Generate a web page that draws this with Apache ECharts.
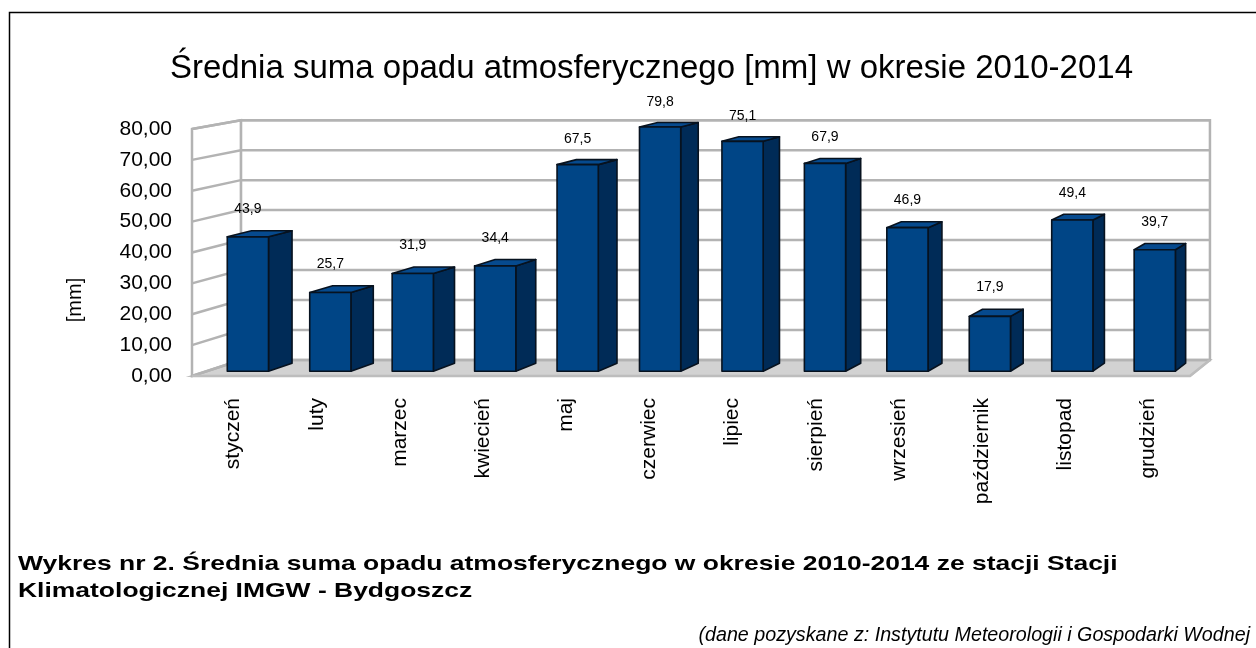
<!DOCTYPE html>
<html>
<head>
<meta charset="utf-8">
<script src="https://cdn.jsdelivr.net/npm/echarts@6/dist/echarts.min.js"></script>
<style>
  html, body { margin: 0; padding: 0; background: #fff; }
  #main { width: 1256px; height: 648px; }
</style>
</head>
<body>
<div id="main"></div>
<script>
var months = ['styczeń', 'luty', 'marzec', 'kwiecień', 'maj', 'czerwiec',
  'lipiec', 'sierpień', 'wrzesień', 'październik', 'listopad', 'grudzień'];
var precip = [43.9, 25.7, 31.9, 34.4, 67.5, 79.8, 75.1, 67.9, 46.9, 17.9, 49.4, 39.7];
var yMin = 0;
var yMax = 80;
var yStep = 10;

var FONT = '"Liberation Sans", Arial, sans-serif';

// fake perspective: points move toward a vanishing point as depth goes 0 -> 1
var VP = [1878, -175];
var DEPTH = 0.029;
var BAR_FRONT = 0.3;
var BAR_BACK = 0.8;
var BAR_WIDTH = 0.5;

function P(x, y, w) {
  var s = w * DEPTH;
  return [x + s * (VP[0] - x), y + s * (VP[1] - y)];
}

var chartDom = document.getElementById('main');
var myChart = echarts.init(chartDom);
var option;

function renderWalls(params, api) {
  var band = api.size([1, 0])[0];
  var x0 = api.coord([0, yMin])[0] - band / 2;
  var x1 = api.coord([months.length - 1, yMin])[0] + band / 2;
  var yb = api.coord([0, yMin])[1];
  var yt = api.coord([0, yMax])[1];
  var grey = '#b3b3b3';
  var children = [];
  // floor
  children.push({
    type: 'polygon',
    shape: { points: [P(x0, yb, 0), P(x1, yb, 0), P(x1, yb, 1), P(x0, yb, 1)] },
    style: { fill: '#d2d2d2', stroke: '#bdbdbd', lineWidth: 2 }
  });
  // back wall
  children.push({
    type: 'polygon',
    shape: { points: [P(x0, yt, 1), P(x1, yt, 1), P(x1, yb, 1), P(x0, yb, 1)] },
    style: { fill: '#ffffff', stroke: grey, lineWidth: 2.5 }
  });
  // left wall
  children.push({
    type: 'polygon',
    shape: { points: [P(x0, yt, 0), P(x0, yt, 1), P(x0, yb, 1), P(x0, yb, 0)] },
    style: { fill: '#ffffff', stroke: grey, lineWidth: 2.5 }
  });
  for (var v = yMin; v <= yMax; v += yStep) {
    var y = api.coord([0, v])[1];
    children.push({
      type: 'polyline',
      shape: { points: [P(x0, y, 0), P(x0, y, 1), P(x1, y, 1)] },
      style: { stroke: grey, lineWidth: 2.5, fill: null }
    });
  }
  // front floor edge
  children.push({
    type: 'polyline',
    shape: { points: [P(x0, yb, 0), P(x1, yb, 0), P(x1, yb, 1)] },
    style: { stroke: '#bdbdbd', lineWidth: 2.5, fill: null }
  });
  return { type: 'group', children: children };
}

function renderBar(params, api) {
  var i = api.value(0);
  var v = api.value(1);
  var band = api.size([1, 0])[0];
  var c = api.coord([i, yMin]);
  var t = api.coord([i, v]);
  var half = band * BAR_WIDTH / 2;
  var xl = c[0] - half, xr = c[0] + half, yb = c[1], yt = t[1];
  var f = BAR_FRONT, b = BAR_BACK;
  var edge = { stroke: '#07121f', lineWidth: 1.6, lineJoin: 'round' };
  var lp = P(c[0], yt, f);
  var lq = P(c[0], yt, 1);
  return {
    type: 'group',
    children: [
      {
        type: 'polygon',
        shape: { points: [P(xr, yt, f), P(xr, yt, b), P(xr, yb, b), P(xr, yb, f)] },
        style: Object.assign({ fill: '#002b57' }, edge)
      },
      {
        type: 'polygon',
        shape: { points: [P(xl, yt, f), P(xr, yt, f), P(xr, yt, b), P(xl, yt, b)] },
        style: Object.assign({ fill: '#064a8e' }, edge)
      },
      {
        type: 'polygon',
        shape: { points: [P(xl, yt, f), P(xr, yt, f), P(xr, yb, f), P(xl, yb, f)] },
        style: Object.assign({ fill: '#004586' }, edge)
      },
      {
        type: 'text',
        style: {
          x: lp[0], y: lq[1] - 19,
          text: v.toFixed(1).replace('.', ','),
          font: '14px ' + FONT,
          fill: '#000',
          textAlign: 'center',
          textVerticalAlign: 'middle'
        }
      }
    ]
  };
}

option = {
  animation: false,
  backgroundColor: '#fff',
  title: [
    {
      text: 'Średnia suma opadu atmosferycznego [mm] w okresie 2010-2014',
      left: 165,
      top: 47,
      textStyle: { fontFamily: FONT, fontSize: 33, fontWeight: 'normal', color: '#000' }
    },
    {
      text: '(dane pozyskane z: Instytutu Meteorologii i Gospodarki Wodnej',
      right: 1,
      top: 621,
      textStyle: { fontFamily: FONT, fontSize: 19.7, fontStyle: 'italic', fontWeight: 'normal', color: '#000' }
    }
  ],
  graphic: [
    {
      type: 'polyline',
      shape: { points: [[9.5, 648], [9.5, 12.5], [1256, 12.5]] },
      style: { stroke: '#000', lineWidth: 1.5, fill: null }
    },
    {
      type: 'text',
      x: 75, y: 300,
      rotation: Math.PI / 2,
      style: {
        text: '[mm]',
        font: '20px ' + FONT,
        fill: '#000',
        textAlign: 'center',
        textVerticalAlign: 'middle'
      }
    },
    {
      type: 'text',
      x: 18, y: 564,
      scaleX: 1.26,
      style: {
        text: 'Wykres nr 2. Średnia suma opadu atmosferycznego w okresie 2010-2014 ze stacji Stacji',
        font: 'bold 21px ' + FONT,
        fill: '#000',
        textVerticalAlign: 'middle'
      }
    },
    {
      type: 'text',
      x: 18, y: 591,
      scaleX: 1.26,
      style: {
        text: 'Klimatologicznej IMGW - Bydgoszcz',
        font: 'bold 21px ' + FONT,
        fill: '#000',
        textVerticalAlign: 'middle'
      }
    }
  ],
  grid: {
    left: 192,
    right: 66,
    top: 129,
    bottom: 272
  },
  xAxis: {
    type: 'category',
    data: months,
    axisLine: { show: false },
    axisTick: { show: false },
    splitLine: { show: false },
    axisLabel: {
      rotate: 90,
      margin: 22,
      interval: 0,
      color: '#000',
      fontFamily: FONT,
      fontSize: 21
    }
  },
  yAxis: {
    type: 'value',
    min: yMin,
    max: yMax,
    interval: yStep,
    axisLine: { show: false },
    axisTick: { show: false },
    splitLine: { show: false },
    axisLabel: {
      margin: 20,
      color: '#000',
      fontFamily: FONT,
      fontSize: 21,
      formatter: function (val) { return val.toFixed(2).replace('.', ','); }
    }
  },
  series: [
    {
      name: 'walls',
      type: 'custom',
      z: 1,
      silent: true,
      renderItem: renderWalls,
      data: [[0, 0]]
    },
    {
      name: 'Opad',
      type: 'custom',
      z: 2,
      renderItem: renderBar,
      encode: { x: 0, y: 1 },
      data: precip.map(function (v, i) { return [i, v]; })
    }
  ]
};

option && myChart.setOption(option);
</script>
</body>
</html>
